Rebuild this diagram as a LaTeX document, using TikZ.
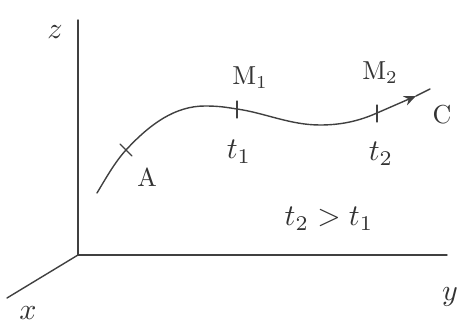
\documentclass[tikz,border=0pt]{standalone}
\usetikzlibrary{arrows.meta,calc}
\newcommand\handlbl[1]{\scalebox{2.6}{#1}}
\newcommand\handbig[1]{\scalebox{3.0}{#1}}
\begin{document}
\begin{tikzpicture}[x=1pt,y=-1pt,
  pen/.style={draw=black!75,line width=1.4pt,line cap=round},
  lbl/.style={text=black!80,inner sep=0pt},
  tick/.style={pen,line width=1.2pt}]
\useasboundingbox (0,0) rectangle (463,328);
% axes
\coordinate (O) at (78,255);
\coordinate (Z) at (78,20);
\coordinate (Y) at (447,255);
\coordinate (X) at (7,298);
\draw[pen] (Z) -- (O) -- (Y);
\draw[pen] (O) -- (X);
\node[lbl] (zl) at (55,32) {\handbig{$z$}};
\node[lbl] (xl) at (28,313) {\handbig{$x$}};
\node[lbl] (yl) at (450,297) {\handbig{$y$}};
% curve
\coordinate (S) at (97,193);
\coordinate (A) at (126,150);
\coordinate (P) at (205,106);
\coordinate (M1) at (237,109);
\coordinate (V) at (320,125);
\coordinate (M2) at (377,113);
\coordinate (T) at (416,96);
\coordinate (E) at (430,89);
\draw[pen] (S) .. controls (106,178) and (115,162) .. (A)
  .. controls (150,124) and (175,106) .. (P)
  .. controls (220,106) and (227,107.5) .. (M1)
  .. controls (265,113) and (290,125) .. (V)
  .. controls (340,125) and (358,121.5) .. (M2);
\draw[pen,-{Stealth[length=12pt,width=10pt,inset=4pt]}] (M2) -- (T);
\draw[pen] (T) -- (E);
% ticks
\draw[tick] ($(A)+(-6,-6)$) -- ($(A)+(6,6)$);
\draw[tick] ($(M1)+(0,-8)$) -- ($(M1)+(0,9)$);
\draw[tick] ($(M2)+(0,-8)$) -- ($(M2)+(0,9)$);
% labels
\node[lbl] (Al) at (147,178) {\handlbl{$\mathrm{A}$}};
\node[lbl] (M1l) at (250,78) {\handlbl{$\mathrm{M}_1$}};
\node[lbl] (M2l) at (380,73) {\handlbl{$\mathrm{M}_2$}};
\node[lbl] (Cl) at (442,115) {\handlbl{$\mathrm{C}$}};
\node[lbl] (t1l) at (239,152) {\handbig{$t_1$}};
\node[lbl] (t2l) at (381,154) {\handbig{$t_2$}};
\node[lbl] (ineq) at (329,219) {\handbig{$t_2 > t_1$}};
\end{tikzpicture}
\end{document}
